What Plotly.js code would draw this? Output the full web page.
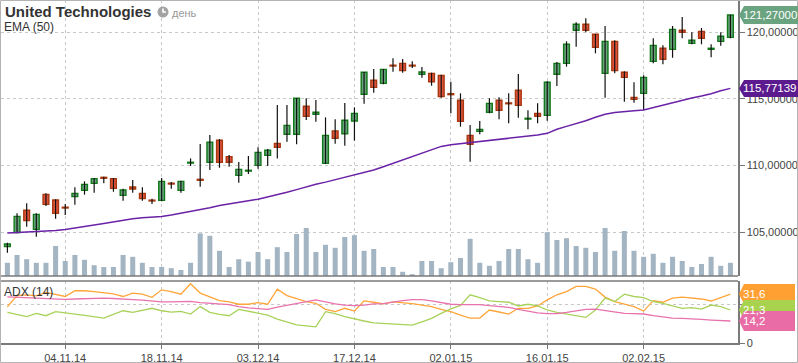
<!DOCTYPE html>
<html><head><meta charset="utf-8">
<script src="https://cdn.plot.ly/plotly-3.0.1.min.js"></script>
<style>html,body{margin:0;padding:0;background:#fff}#chart{width:798px;height:363px}</style>
</head><body><div id="chart"></div>
<script>
const dates = ['27.10.14','28.10.14','29.10.14','30.10.14','31.10.14','03.11.14','04.11.14','05.11.14','06.11.14','07.11.14',
'10.11.14','11.11.14','12.11.14','13.11.14','14.11.14','17.11.14','18.11.14','19.11.14','20.11.14','21.11.14',
'24.11.14','25.11.14','26.11.14','28.11.14','01.12.14','02.12.14','03.12.14','04.12.14','05.12.14','08.12.14',
'09.12.14','10.12.14','11.12.14','12.12.14','15.12.14','16.12.14','17.12.14','18.12.14','19.12.14','22.12.14',
'23.12.14','24.12.14','26.12.14','29.12.14','30.12.14','31.12.14','02.01.15','05.01.15','06.01.15','07.01.15',
'08.01.15','09.01.15','12.01.15','13.01.15','14.01.15','15.01.15','16.01.15','20.01.15','21.01.15','22.01.15',
'23.01.15','26.01.15','27.01.15','28.01.15','29.01.15','30.01.15','02.02.15','03.02.15','04.02.15','05.02.15',
'06.02.15','09.02.15','10.02.15','11.02.15','12.02.15','13.02.15'];

const openP = [103.9,104.95,106.63,105.2,107.82,107.4,106.85,107.65,108.12,108.65,
109.1,109.0,107.75,108.37,107.9,107.38,107.37,108.65,108.12,110.17,
108.95,110.23,111.88,110.65,109.25,109.57,110.0,110.75,111.65,112.33,
112.33,114.43,113.83,110.15,112.57,112.37,113.32,115.33,116.38,116.15,
117.5,117.65,117.5,116.82,116.9,116.75,115.37,114.88,112.25,112.55,
113.98,114.88,114.68,115.63,113.47,113.9,113.75,116.83,117.65,120.13,
120.58,119.83,116.9,119.3,116.98,115.1,115.4,117.8,118.78,118.7,
120.13,119.15,120.05,118.7,119.3,119.6];
const highP = [104.2,106.4,107.15,106.4,107.9,107.45,107.1,108.35,108.8,109.05,
109.15,109.05,108.25,108.9,108.35,107.5,109.05,108.75,108.85,110.52,
111.6,112.27,111.97,110.77,110.25,110.7,111.35,111.22,114.52,114.52,
115.05,115.03,114.9,113.6,113.45,114.67,114.35,117.0,117.22,117.22,
118.03,117.97,117.8,117.37,116.95,116.8,116.27,115.4,113.02,113.32,
115.03,115.1,115.4,116.85,114.13,114.65,116.3,117.75,119.3,120.73,
121.03,119.85,120.45,119.38,117.05,116.23,116.75,119.53,119.0,120.45,
121.13,119.98,120.3,119.08,119.98,121.3];
const lowP = [103.45,104.9,105.4,104.64,106.95,106.0,106.27,107.05,107.8,107.95,
108.65,108.02,107.35,107.95,107.35,107.1,107.3,108.25,107.95,109.95,
108.4,109.65,109.82,109.9,108.7,109.35,109.75,109.95,110.52,111.77,
111.58,113.4,113.27,110.1,111.62,111.47,111.85,114.62,115.45,116.08,
117.02,116.95,117.3,116.57,115.97,115.07,113.9,112.9,110.27,112.33,
113.9,113.45,113.15,113.57,112.7,113.15,113.35,115.95,117.4,118.9,
119.98,118.4,115.07,116.9,114.77,114.7,114.15,117.65,117.58,118.07,
119.53,119.08,119.08,118.1,118.97,119.53];
const closeP = [104.1,106.17,105.85,106.32,107.07,106.4,106.8,107.9,108.57,109.0,
109.03,108.27,108.15,108.22,107.5,107.33,108.8,108.6,108.8,110.22,
108.88,111.73,110.23,110.23,109.7,109.62,110.97,111.13,111.35,113.0,
115.03,113.68,113.98,112.25,112.03,113.38,113.9,116.98,115.85,117.2,
117.45,117.1,117.45,117.0,116.27,115.15,115.3,113.3,111.58,112.7,
114.65,114.13,114.62,114.5,113.53,113.68,116.23,117.65,119.08,120.58,
120.13,118.85,119.3,117.1,116.6,114.95,116.6,119.0,117.95,120.2,
119.98,119.38,119.53,118.78,119.68,121.27];

const ema50 = [104.92,104.95,104.98,105.02,105.07,105.12,105.18,105.28,105.40,105.52,
105.64,105.76,105.88,106.00,106.06,106.10,106.16,106.27,106.40,106.53,
106.66,106.82,106.98,107.12,107.24,107.35,107.46,107.62,107.80,107.98,
108.18,108.40,108.58,108.74,108.92,109.10,109.27,109.45,109.65,109.90,
110.15,110.45,110.70,110.95,111.18,111.42,111.55,111.63,111.70,111.78,
111.88,111.97,112.05,112.13,112.20,112.27,112.40,112.70,112.92,113.12,
113.35,113.60,113.83,113.97,114.05,114.10,114.15,114.33,114.52,114.72,
114.92,115.05,115.20,115.37,115.60,115.77139];

const volume = [2.2,3.5,2.8,2.2,2.2,5.0,2.5,3.5,2.7,1.8,
1.5,1.5,3.5,3.2,2.2,1.5,1.5,1.3,1.0,2.2,
7.1,6.7,4.2,1.5,2.8,2.4,4.0,2.8,4.8,4.0,
7.0,8.0,4.0,5.2,4.7,6.5,6.8,4.2,4.5,1.5,
1.5,0.7,0.3,2.5,2.5,1.3,2.3,3.0,6.2,2.2,
1.7,2.5,4.5,4.5,2.8,2.2,7.3,6.0,6.3,5.0,
4.7,4.0,8.0,4.2,7.5,4.2,3.2,3.7,2.2,3.2,
2.5,1.5,2.0,3.2,1.7,2.2];

const adxOrange = [23.4,30.6,31.1,30.4,32.6,31.1,30.0,33.7,33.7,33.2,
32.6,31.7,30.0,32.2,31.5,29.5,34.3,33.2,31.5,38.2,
32.2,30.0,27.4,26.5,25.0,25.0,26.1,25.0,34.7,30.6,
28.7,26.7,25.6,21.7,20.2,22.4,20.6,27.2,26.3,25.2,
26.5,26.1,25.4,24.5,23.5,21.7,20.2,18.0,16.1,16.1,
21.3,20.0,18.7,22.4,22.4,23.9,27.8,31.1,33.2,36.5,
36.5,34.8,29.6,26.7,25.2,23.4,20.6,27.3,26.3,28.9,
29.6,28.9,28.4,27.1,29.6,31.6];
const adxGreen = [19.8,18.5,17.0,19.1,17.6,20.2,19.6,18.7,17.8,17.0,
16.1,18.5,20.8,19.8,21.2,22.4,20.8,19.9,20.4,18.7,
23.5,19.8,18.5,17.6,21.7,20.6,19.4,18.0,15.4,13.3,
11.7,11.1,10.4,20.2,18.9,17.0,15.4,14.2,13.0,12.6,
12.2,12.0,11.5,13.7,15.9,19.1,22.0,24.3,31.1,29.3,
27.2,26.7,26.3,23.9,25.0,23.9,21.3,19.8,18.7,17.6,
16.5,21.3,29.0,26.7,31.5,30.0,29.3,26.7,25.6,23.9,
22.4,22.8,21.9,24.5,23.5,21.3];
const adxPink = [29.8,29.5,29.3,29.1,28.9,28.5,28.2,28.4,28.7,28.8,
28.9,28.7,28.5,28.0,27.6,27.0,26.5,26.5,26.5,26.8,
26.1,25.6,25.4,24.8,23.5,22.6,22.2,21.7,23.1,24.3,
25.4,26.5,27.8,26.5,25.2,24.5,24.1,24.5,25.2,25.4,
26.5,27.4,28.0,28.0,27.2,26.1,25.0,24.8,24.8,24.8,
24.1,23.7,23.0,21.7,20.6,19.5,18.9,19.0,19.8,20.6,
21.7,21.9,20.9,19.8,19.1,19.0,18.7,17.6,16.7,16.1,
15.9,15.7,15.2,14.8,14.4,14.2];

const tickDates = ['04.11.14','18.11.14','03.12.14','17.12.14','02.01.15','16.01.15','02.02.15'];
const priceTicks = [105,110,115,120];

// ---- layout geometry (pixels) ----
const L = 1, R = 738, T = 0, B = 343;
const MAIN_BOTTOM = 276, ADX_TOP = 281;
const px = x => (x - L) / (R - L);
const py = y => (B - y) / (B - T);
const MAIN_RANGE = [101.70, 122.40];
const ADX_RANGE = [0, 40];
const mainPPU = (MAIN_BOTTOM - T) / (MAIN_RANGE[1] - MAIN_RANGE[0]);
const adxPPU = (B - ADX_TOP) / (ADX_RANGE[1] - ADX_RANGE[0]);

const UP_FILL = '#67a47b', UP_LINE = '#12781a', DN_FILL = '#e0533c', DN_LINE = '#a8380f';
const isUp = closeP.map((c, i) => c >= openP[i]);

const FONT = 'Liberation Sans, Arial, sans-serif';
const grid = {showgrid: true, gridcolor: '#c8c8c8', griddash: 'dot', gridwidth: 1};
const tickFont = {family: FONT, size: 11, color: '#444'};

const traces = [
  {type: 'bar', x: dates, y: volume, yaxis: 'y2', marker: {color: '#a3b4c2'}, width: 0.52, hoverinfo: 'skip'},
  {type: 'scatter', mode: 'lines', x: dates, y: ema50, yaxis: 'y', line: {color: '#6a22a6', width: 1.5}, hoverinfo: 'skip'},
  {type: 'ohlc', x: dates, open: openP, high: highP, low: lowP, close: closeP, yaxis: 'y', tickwidth: 0,
   increasing: {line: {color: '#111', width: 1.2}}, decreasing: {line: {color: '#111', width: 1.2}}, hoverinfo: 'skip'},
  {type: 'bar', x: dates, yaxis: 'y',
   base: openP.map((o, i) => Math.min(o, closeP[i])),
   y: openP.map((o, i) => Math.max(Math.abs(closeP[i] - o), 0.06)),
   width: 0.6,
   marker: {color: isUp.map(u => u ? UP_FILL : DN_FILL), line: {color: isUp.map(u => u ? UP_LINE : DN_LINE), width: 1.4}},
   hoverinfo: 'skip'},
  {type: 'scatter', mode: 'lines', x: dates, y: adxOrange, yaxis: 'y3', line: {color: '#ffa53a', width: 1.3}, hoverinfo: 'skip'},
  {type: 'scatter', mode: 'lines', x: dates, y: adxGreen, yaxis: 'y3', line: {color: '#a8d25a', width: 1.3}, hoverinfo: 'skip'},
  {type: 'scatter', mode: 'lines', x: dates, y: adxPink, yaxis: 'y3', line: {color: '#e872ad', width: 1.3}, hoverinfo: 'skip'}
];

const shapes = [];
const annotations = [];
function hline(y){
  shapes.push({type: 'line', xref: 'paper', yref: 'paper', x0: px(0), x1: px(R), y0: py(y), y1: py(y), line: {color: '#7a7a7a', width: 1.5}});
}
hline(MAIN_BOTTOM); hline(ADX_TOP);
// outer frame
shapes.push({type: 'rect', xref: 'paper', yref: 'paper', x0: px(0.5), x1: px(797.5), y0: py(362.5), y1: py(0.5), line: {color: '#b4b4b4', width: 1}});
// clock icon
shapes.push({type: 'circle', xref: 'paper', yref: 'paper', x0: px(157.5), x1: px(168.5), y0: py(17.5), y1: py(6.5), fillcolor: '#a3a3a3', line: {width: 0}});
shapes.push({type: 'path', xref: 'paper', yref: 'paper', path: `M ${px(163)} ${py(8.5)} L ${px(163)} ${py(12)} L ${px(166)} ${py(12)}`, line: {color: '#fff', width: 1.6}});

function valueLabel(v, yref, ppu, half, color, text, rightEdge){
  const d = half / ppu;
  shapes.push({type: 'path', xref: 'paper', yref: yref, fillcolor: color, line: {width: 0}, layer: 'above',
    path: `M ${px(739)} ${v} L ${px(744)} ${v + d} L ${px(rightEdge)} ${v + d} L ${px(rightEdge)} ${v - d} L ${px(744)} ${v - d} Z`});
  annotations.push({xref: 'paper', yref: yref, x: px(742), y: v, xanchor: 'left', yanchor: 'middle', showarrow: false, borderpad: 0,
    text: text, font: {family: FONT, size: 11.5, color: '#fff'}});
}
const fmt = (v, d) => v.toFixed(d).replace('.', ',');
const lastI = dates.length - 1;
valueLabel(closeP[lastI], 'y', mainPPU, 9, '#6aa37f', fmt(closeP[lastI], 5), 798);
valueLabel(ema50[lastI], 'y', mainPPU, 8.5, '#5b1b8e', fmt(ema50[lastI], 5), 798);
valueLabel(adxOrange[lastI], 'y3', adxPPU, 10, '#ffa033', fmt(adxOrange[lastI], 1), 795);
valueLabel(adxGreen[lastI], 'y3', adxPPU, 10, '#a9d34f', fmt(adxGreen[lastI], 1), 795);
valueLabel(adxPink[lastI], 'y3', adxPPU, 10, '#e96ca6', fmt(adxPink[lastI], 1), 795);

const txt = (x, y, text, size, color) => annotations.push({xref: 'paper', yref: 'paper', x: px(x), y: py(y), xanchor: 'left', yanchor: 'middle',
  showarrow: false, text: text, font: {family: FONT, size: size, color: color}});
txt(3, 12, '<b>United Technologies</b>', 15, '#333');
txt(170, 13, 'день', 11, '#999');
txt(2, 27, 'EMA (50)', 12, '#333');
txt(2, 292, 'ADX (14)', 12, '#333');

const layout = {
  width: 798, height: 363,
  margin: {l: L, r: 798 - R, t: T, b: 363 - B, pad: 0},
  paper_bgcolor: '#ffffff', plot_bgcolor: '#ffffff',
  separators: ',.',
  showlegend: false,
  barmode: 'overlay',
  dragmode: false,
  xaxis: Object.assign({type: 'category', range: [(L - 7.4) / 9.64, (R - 7.4) / 9.64], anchor: 'y3',
    tickmode: 'array', tickvals: tickDates, ticktext: tickDates, ticks: 'outside', ticklen: 4, tickcolor: '#777',
    showline: true, linecolor: '#7a7a7a', linewidth: 1.5, tickfont: tickFont, zeroline: false,
    rangeslider: {visible: false}, fixedrange: true}, grid),
  yaxis: Object.assign({domain: [py(MAIN_BOTTOM), 1], range: MAIN_RANGE, side: 'right', tickmode: 'array', tickvals: priceTicks,
    tickformat: '.5f', ticks: 'outside', ticklen: 5, tickcolor: '#777', showline: true, linecolor: '#7a7a7a', linewidth: 1.5,
    tickfont: tickFont, zeroline: false, fixedrange: true}, grid),
  yaxis2: {overlaying: 'y', range: [0, (MAIN_BOTTOM - T) / 6], visible: false, fixedrange: true},
  yaxis3: Object.assign({domain: [0, py(ADX_TOP)], range: ADX_RANGE, side: 'right', tickmode: 'array', tickvals: [0, 25], ticktext: ['0', ''],
    ticks: 'outside', ticklen: 5, tickcolor: '#777', showline: true, linecolor: '#7a7a7a', linewidth: 1.5,
    tickfont: tickFont, zeroline: false, fixedrange: true}, grid),
  shapes: shapes,
  annotations: annotations
};

Plotly.newPlot('chart', traces, layout, {displayModeBar: false, staticPlot: true});
</script>
</body></html>
